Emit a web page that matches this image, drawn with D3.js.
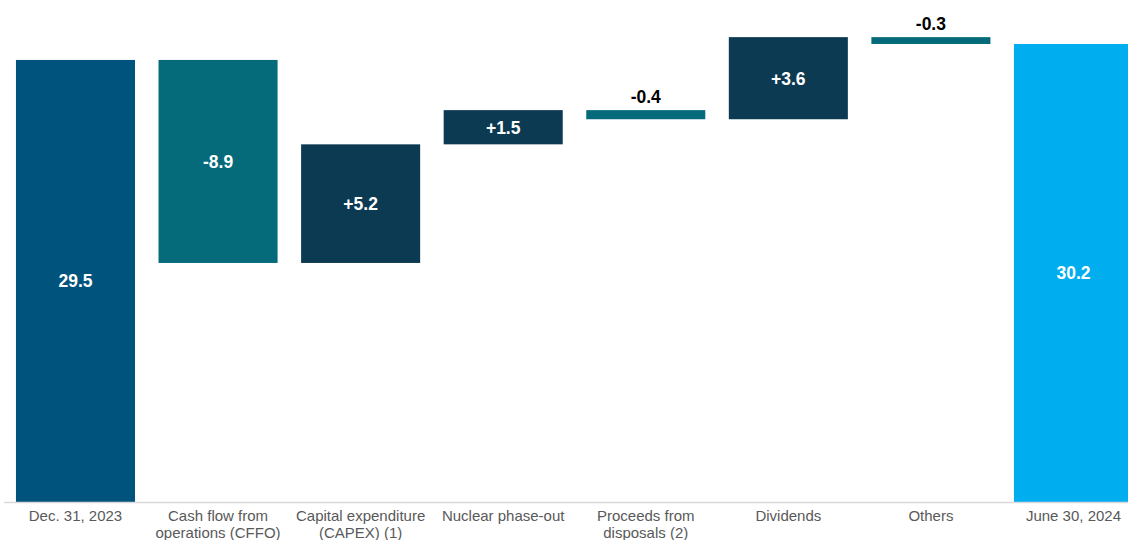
<!DOCTYPE html>
<html>
<head>
<meta charset="utf-8">
<script src="https://cdn.jsdelivr.net/npm/d3@7"></script>
<style>
  html, body { margin: 0; padding: 0; background: #fff; overflow: hidden; }
  svg { display: block; font-family: "Liberation Sans", Arial, sans-serif; }
</style>
</head>
<body>
<svg id="chart" width="1128" height="540"></svg>
<script>
// Net debt bridge, Dec. 31, 2023 -> June 30, 2024 (billions)
const categories = [
  ["Dec. 31, 2023"],
  ["Cash flow from", "operations (CFFO)"],
  ["Capital expenditure", "(CAPEX) (1)"],
  ["Nuclear phase-out"],
  ["Proceeds from", "disposals (2)"],
  ["Dividends"],
  ["Others"],
  ["June 30, 2024"]
];
const values = [29.5, -8.9, 5.2, 1.5, -0.4, 3.6, -0.3, 30.2];
const kinds  = ["total", "delta", "delta", "delta", "delta", "delta", "delta", "total"];

const colors = {
  start: "#00537C",
  end: "#00AEEF",
  up: "#0D3A53",
  down: "#056B7B"
};

const W = 1128, H = 540;
const svg = d3.select("#chart");

// running totals for each step of the bridge
let running = 0;
const bars = values.map((v, i) => {
  let lo, hi;
  if (kinds[i] === "total") {
    running = v;
    lo = null; hi = v;
  } else {
    const prev = running;
    running = +(prev + v).toFixed(2);
    lo = Math.min(prev, running); hi = Math.max(prev, running);
  }
  return { i, v, kind: kinds[i], lo, hi, lines: categories[i] };
});

const x = d3.scaleBand()
  .domain(d3.range(categories.length))
  .range([4.2, 4.2 + 142.57 * categories.length])
  .paddingInner(0.165)
  .paddingOuter(0.0825);

// value axis starts above zero; totals run down to the baseline
const yMin = 10.12;
const y = d3.scaleLinear().domain([yMin, 31]).range([502, 502 - (31 - yMin) * 22.81]);

function fill(d) {
  if (d.kind === "total") return d.i === 0 ? colors.start : colors.end;
  return d.v >= 0 ? colors.up : colors.down;
}

const g = svg.append("g");

g.selectAll("rect.bar")
  .data(bars)
  .join("rect")
  .attr("class", "bar")
  .attr("x", d => x(d.i))
  .attr("width", x.bandwidth())
  .attr("y", d => y(d.hi))
  .attr("height", d => (d.lo === null ? y(yMin) : y(d.lo)) - y(d.hi))
  .attr("fill", fill);

// baseline
g.append("line")
  .attr("x1", 4).attr("x2", W)
  .attr("y1", y(yMin) + 0.5).attr("y2", y(yMin) + 0.5)
  .attr("stroke", "#d9d9d9")
  .attr("stroke-width", 1.5);

// value labels: inside the bar when it is tall enough, otherwise above it
const fmt = v => Math.abs(v).toFixed(1);
const label = d => d.kind === "total" ? fmt(d.v) : (d.v > 0 ? "+" : "-") + fmt(d.v);
const barSpan = d => {
  const top = y(d.hi);
  const bottom = d.lo === null ? y(yMin) : y(d.lo);
  return { top, bottom, small: bottom - top < 24 };
};

g.selectAll("text.val")
  .data(bars)
  .join("text")
  .attr("class", "val")
  .attr("x", d => x(d.i) + x.bandwidth() / 2)
  .attr("y", d => {
    const s = barSpan(d);
    return s.small ? s.top - 7 : (s.top + s.bottom) / 2 + 6.5;
  })
  .attr("text-anchor", "middle")
  .attr("font-size", 17.5)
  .attr("font-weight", "bold")
  .attr("fill", d => barSpan(d).small ? "#000" : "#fff")
  .text(label);

// category labels
const cat = g.selectAll("text.cat")
  .data(bars)
  .join("text")
  .attr("class", "cat")
  .attr("text-anchor", "middle")
  .attr("font-size", 15)
  .attr("fill", "#595959");

cat.selectAll("tspan")
  .data(d => d.lines.map((t, k) => ({ t, k, cx: x(d.i) + x.bandwidth() / 2 })))
  .join("tspan")
  .attr("x", d => d.cx)
  .attr("y", d => 521 + d.k * 17)
  .text(d => d.t);
</script>
</body>
</html>
